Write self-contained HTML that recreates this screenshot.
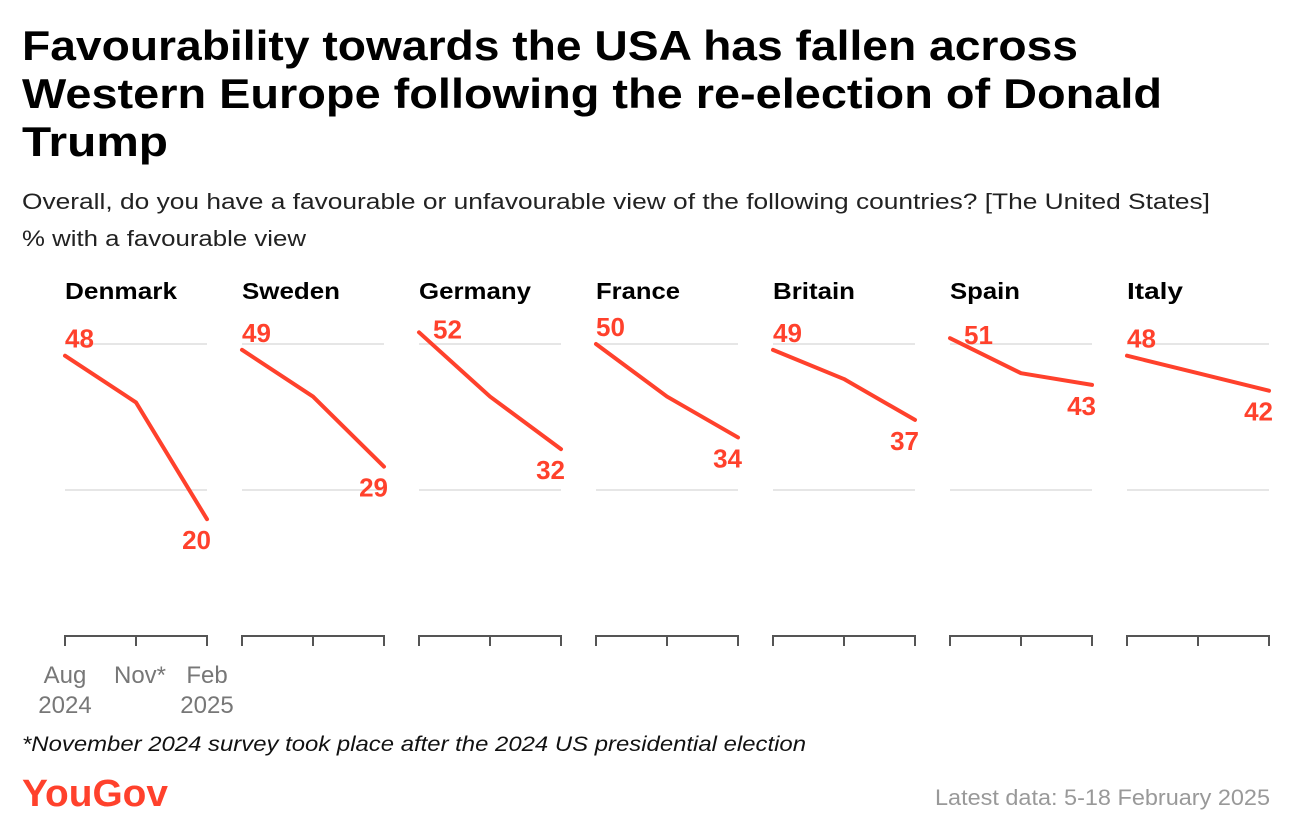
<!DOCTYPE html>
<html><head><meta charset="utf-8"><style>
body{margin:0;background:#fff;width:1292px;height:829px;overflow:hidden;font-family:"Liberation Sans",sans-serif}
svg{display:block}
</style></head><body>
<svg width="1292" height="829" id="chart">
<text font-size="42" font-weight="bold" fill="#000"><tspan x="22" y="60" textLength="1056" lengthAdjust="spacingAndGlyphs">Favourability towards the USA has fallen across</tspan><tspan x="22" y="108" textLength="1140" lengthAdjust="spacingAndGlyphs">Western Europe following the re-election of Donald</tspan><tspan x="22" y="156" textLength="146" lengthAdjust="spacingAndGlyphs">Trump</tspan></text>
<text x="22" y="209" font-size="22" fill="#222" textLength="1188" lengthAdjust="spacingAndGlyphs">Overall, do you have a favourable or unfavourable view of the following countries? [The United States]</text>
<text x="22" y="246" font-size="22" fill="#222" textLength="284" lengthAdjust="spacingAndGlyphs">% with a favourable view</text>
<g id="panels"></g>
<text x="65" y="683" font-size="24" fill="#777" text-anchor="middle">Aug</text>
<text x="65" y="713" font-size="24" fill="#777" text-anchor="middle">2024</text>
<text x="140" y="683" font-size="24" fill="#777" text-anchor="middle">Nov*</text>
<text x="207" y="683" font-size="24" fill="#777" text-anchor="middle">Feb</text>
<text x="207" y="713" font-size="24" fill="#777" text-anchor="middle">2025</text>
<text x="22" y="751" font-size="21" font-style="italic" fill="#111" textLength="784" lengthAdjust="spacingAndGlyphs">*November 2024 survey took place after the 2024 US presidential election</text>
<text x="22" y="806" font-size="38" fill="#ff412c" font-weight="bold" textLength="146" lengthAdjust="spacingAndGlyphs">YouGov</text>
<text x="1270" y="805" font-size="22" fill="#999" text-anchor="end" textLength="335" lengthAdjust="spacingAndGlyphs">Latest data: 5-18 February 2025</text>
</svg>
<script>
const countries=["Denmark","Sweden","Germany","France","Britain","Spain","Italy"];
const aug2024=[48,49,52,50,49,51,48];
const nov2024=[40,41,41,41,44,45,45];
const feb2025=[20,29,32,34,37,43,42];
const gridValues=[25,50];
const nameWidths=[112,98,112,84,82,70,56];
const NS="http://www.w3.org/2000/svg";
const g=document.getElementById('panels');
const y=v=>636-v*5.84;
function mk(tag,attrs){const e=document.createElementNS(NS,tag);for(const k in attrs)e.setAttribute(k,attrs[k]);g.appendChild(e);return e;}
countries.forEach((c,i)=>{
  const x0=65+i*177, w=142, xs=[x0,x0+w/2,x0+w];
  const name=mk('text',{x:x0,y:299,'font-size':23,'font-weight':'bold',fill:'#000',textLength:nameWidths[i],lengthAdjust:'spacingAndGlyphs'});name.textContent=c;
  
  
  gridValues.forEach(v=>{const l=mk('line',{x1:x0,x2:x0+w,y1:y(v),y2:y(v),stroke:'#e6e6e6','stroke-width':2});
    
    });
  const ax=mk('path',{d:`M${x0} 646V636H${x0+w}V646M${x0+w/2} 636V646`,stroke:'#555','stroke-width':2,fill:'none'});
  
  
  const vals=[aug2024[i],nov2024[i],feb2025[i]];
  const ln=mk('polyline',{points:vals.map((v,j)=>xs[j]+','+y(v)).join(' '),stroke:'#ff412c','stroke-width':4,fill:'none','stroke-linecap':'round','stroke-linejoin':'round'});
  
  
  const v0=vals[0];
  const hi=v0>=51;
  const t0=mk('text',{x:hi?x0+14:x0,y:hi?y(v0)+6:y(v0)-8,'font-size':26,'font-weight':'bold',fill:'#ff412c'});t0.textContent=v0;
  
  
  const v2=vals[2];
  const t2=mk('text',{x:x0+w+4,y:y(v2)+30,'font-size':26,'font-weight':'bold',fill:'#ff412c','text-anchor':'end'});t2.textContent=v2;
  
  
});
</script>
</body></html>
